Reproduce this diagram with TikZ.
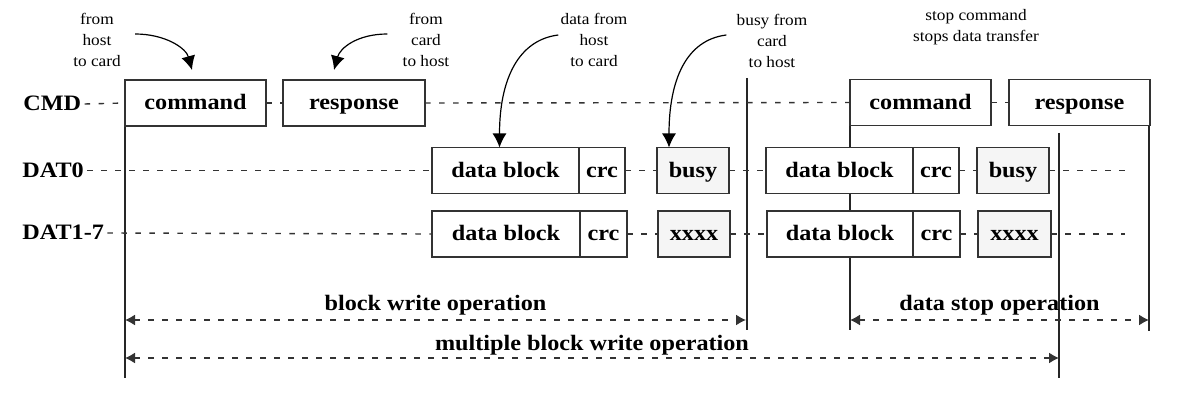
\documentclass[tikz,border=0pt]{standalone}
\usepackage{fontspec}
\setmainfont{Liberation Serif}[FakeStretch=1.1]
\newfontfamily\notefont{Liberation Serif}[FakeStretch=1.08]
\usetikzlibrary{positioning,arrows.meta,backgrounds}

\tikzset{
  sigbox/.style={draw=black!80,line width=0.7pt,fill=white,outer sep=0pt,inner sep=0pt,
    minimum height=23pt,text height=7.5pt,text depth=0.5pt,font=\bfseries\fontsize{11}{13}\selectfont},
  busybox/.style={sigbox,fill=black!4},
  siglabel/.style={inner sep=1.5pt,text height=7.5pt,text depth=0.5pt,font=\bfseries\fontsize{11}{13}\selectfont},
  oplabel/.style={inner sep=1.5pt,font=\bfseries\fontsize{11}{13}\selectfont},
  note/.style={align=center,inner sep=1pt,font=\notefont\fontsize{8}{10.6}\selectfont},
  sigline/.style={draw=black!80,line width=0.7pt,dash pattern=on 2.75pt off 4.25pt},
  tline/.style={draw=black!85,line width=0.55pt},
  opspan/.style={sigline,{Latex[length=5pt,width=5.5pt]}-{Latex[length=5pt,width=5.5pt]}},
  pointer/.style={draw=black,line width=0.6pt,-{Latex[length=7pt,width=7pt]}},
}

\begin{document}
\begin{tikzpicture}[x=0.5pt,y=-0.5pt]
\useasboundingbox (0,0) rectangle (1184,401);

% row names
\node [siglabel,anchor=west] (cmdlbl) at (20,104) {CMD};
\node [siglabel,anchor=west] (dat0lbl) at (19,170.5) {DAT0};
\node [siglabel,anchor=west] (dat17lbl) at (19,233) {DAT1-7};

% CMD line
\node [sigbox,minimum width=70.5pt] (cmd1) at (195.5,103) {command};
\node [sigbox,minimum width=71pt] (resp1) at (354,103) {response};
\node [sigbox,minimum width=70.5pt] (cmd2) at (920.5,102.5) {command};
\node [sigbox,minimum width=70.5pt] (resp2) at (1079.5,102.5) {response};

% DAT0 line
\node [sigbox,minimum width=73.5pt] (blk1) at (505.5,170.5) {data block};
\node [sigbox,minimum width=23pt,right=0pt of blk1] (crc1) {crc};
\node [busybox,minimum width=36pt] (busy1) at (693,170.5) {busy};
\node [sigbox,minimum width=73.5pt] (blk2) at (839.5,170.5) {data block};
\node [sigbox,minimum width=23pt,right=0pt of blk2] (crc2) {crc};
\node [busybox,minimum width=36pt] (busy2) at (1013,170.5) {busy};

% DAT1-7 lines
\node [sigbox,minimum width=74pt] (blk3) at (506,234) {data block};
\node [sigbox,minimum width=23.5pt,right=0pt of blk3] (crc3) {crc};
\node [busybox,minimum width=36pt] (xx1) at (694,234) {xxxx};
\node [sigbox,minimum width=73pt] (blk4) at (840,234) {data block};
\node [sigbox,minimum width=23.5pt,right=0pt of blk4] (crc4) {crc};
\node [busybox,minimum width=36.5pt] (xx2) at (1014.5,234) {xxxx};

\coordinate (tail0) at (1125,170.5);
\coordinate (tail1) at (1125,234);

\draw[sigline] (cmdlbl.east)--(cmd1.west);
\draw[sigline] (cmd1.east)--(resp1.west);
\draw[sigline] (resp1.east)--(cmd2.west);
\draw[sigline] (cmd2.east)--(resp2.west);

\draw[sigline] (dat0lbl.east)--(blk1.west);
\draw[sigline] (crc1.east)--(busy1.west);
\draw[sigline] (busy1.east)--(blk2.west);
\draw[sigline] (crc2.east)--(busy2.west);
\draw[sigline] (busy2.east)--(tail0);

\draw[sigline] (dat17lbl.east)--(blk3.west);
\draw[sigline] (crc3.east)--(xx1.west);
\draw[sigline] (xx1.east)--(blk4.west);
\draw[sigline] (crc4.east)--(xx2.west);
\draw[sigline] (xx2.east)--(tail1);

% time marks
\coordinate (startend) at (125,378);
\coordinate (wtop) at (747,78);
\coordinate (wend) at (747,330);
\coordinate (stopend) at (850,330);
\coordinate (mtop) at (1059,133);
\coordinate (mend) at (1059,378);
\coordinate (rspend) at (1149,331);
\begin{scope}[on background layer]
\draw[tline] (cmd1.north west)--(startend);
\draw[tline] (wtop)--(wend);
\draw[tline] (cmd2.south west)--(stopend);
\draw[tline] (mtop)--(mend);
\draw[tline] ([xshift=-0.5pt]resp2.south east)--(rspend);
\end{scope}

% operations
\coordinate (bwA) at (125,320);
\coordinate (bwB) at (746,320);
\coordinate (dsA) at (850,320);
\coordinate (dsB) at (1149,320);
\coordinate (mbA) at (125,358);
\coordinate (mbB) at (1059,358);
\draw[opspan] (bwA)--node[oplabel,above=0.5pt] (bwlbl) {block write operation} (bwB);
\draw[opspan] (dsA)--node[oplabel,above=0.5pt] (dslbl) {data stop operation} (dsB);
\draw[opspan] (mbA)--node[oplabel,above=-0.5pt] (mblbl) {multiple block write operation} (mbB);

% notes
\node[note] (n1) at (97,40) {from\\host\\to card};
\node[note] (n2) at (426,40) {from\\card\\to host};
\node[note] (n3) at (594,40) {data from\\host\\to card};
\node[note] (n4) at (772,41) {busy from\\card\\to host};
\node[note] (n5) at (976,27) {stop command\\stops data transfer};

\draw[pointer] ([xshift=6pt,yshift=3pt]n1.east) .. controls +(30,0) and +(-6,-22) .. ([xshift=-1.75pt,yshift=5pt]cmd1.north);
\draw[pointer] ([xshift=-6.5pt,yshift=3pt]n2.west) .. controls +(-30,0) and +(6,-22) .. ([xshift=-10pt,yshift=5pt]resp1.north);
\draw[pointer] ([yshift=2.5pt]n3.west) .. controls +(-40,5) and +(0,-68) .. ([xshift=-3pt]blk1.north);
\draw[pointer] ([xshift=-4pt,yshift=3pt]n4.west) .. controls +(-40,5) and +(0,-68) .. ([xshift=6pt]busy1.north west);
\end{tikzpicture}
\end{document}
